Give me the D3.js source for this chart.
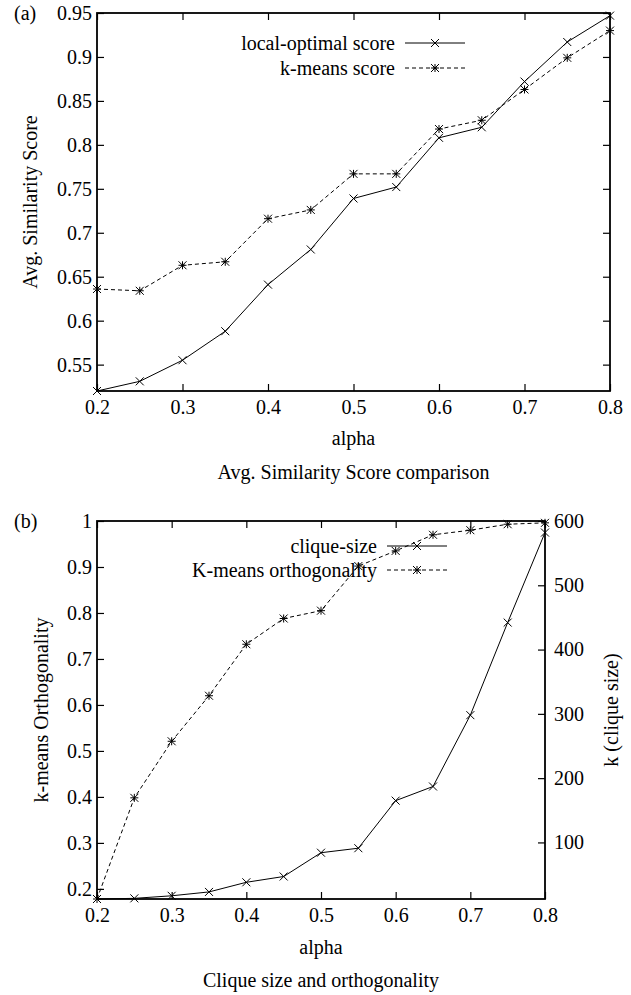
<!DOCTYPE html>
<html>
<head>
<meta charset="utf-8">
<script src="https://cdn.jsdelivr.net/npm/d3@7"></script>
<style>
  body { margin: 0; background: #fff; }
  svg text { font-family: "Liberation Serif", "Times New Roman", serif; font-size: 20px; fill: #000; }
</style>
</head>
<body>
<svg width="631" height="995"></svg>
<script>
// data
const alpha = [0.2, 0.25, 0.3, 0.35, 0.4, 0.45, 0.5, 0.55, 0.6, 0.65, 0.7, 0.75, 0.8];
const localOptimal = [0.52, 0.531, 0.555, 0.588, 0.641, 0.681, 0.739, 0.752, 0.808, 0.820, 0.872, 0.917, 0.947];
const kmeansScore = [0.636, 0.634, 0.663, 0.667, 0.716, 0.726, 0.767, 0.767, 0.818, 0.828, 0.863, 0.899, 0.930];
const kmeansOrth = [0.178, 0.398, 0.521, 0.620, 0.732, 0.788, 0.805, 0.902, 0.935, 0.970, 0.980, 0.993, 0.996];
const cliqueSize = [12, 13, 17, 23, 38, 47, 84, 91, 165, 187, 298, 442, 582];

const xTicks = [0.2, 0.3, 0.4, 0.5, 0.6, 0.7, 0.8];
const scoreTicks = [0.55, 0.6, 0.65, 0.7, 0.75, 0.8, 0.85, 0.9, 0.95];
const orthTicks = [0.2, 0.3, 0.4, 0.5, 0.6, 0.7, 0.8, 0.9, 1];
const kTicks = [100, 200, 300, 400, 500, 600];

const svg = d3.select("svg");
const fmt = d => String(+d.toFixed(2));
const tick = 7;

function cross(g, x, y, s) {
  g.append("path")
    .attr("d", `M${x - s},${y - s}L${x + s},${y + s}M${x - s},${y + s}L${x + s},${y - s}`)
    .attr("stroke", "#000").attr("stroke-width", 1).attr("fill", "none");
}
function star(g, x, y, s) {
  cross(g, x, y, s);
  g.append("path")
    .attr("d", `M${x - s},${y}L${x + s},${y}M${x},${y - s}L${x},${y + s}`)
    .attr("stroke", "#000").attr("stroke-width", 1).attr("fill", "none");
}

function series(g, x, y, vals, dashed, marker) {
  const line = d3.line().x((d, i) => x(alpha[i])).y(d => y(d));
  g.append("path").datum(vals)
    .attr("d", line)
    .attr("fill", "none").attr("stroke", "#000").attr("stroke-width", 1)
    .attr("stroke-dasharray", dashed ? "4,3" : null);
  vals.forEach((v, i) => marker(g, x(alpha[i]), y(v), 4));
}

function legendRow(g, xEnd, y, label, dashed, marker) {
  g.append("text").attr("x", xEnd).attr("y", y).attr("dy", "0.35em")
    .attr("text-anchor", "end").text(label);
  g.append("line").attr("x1", xEnd + 10).attr("x2", xEnd + 70).attr("y1", y).attr("y2", y)
    .attr("stroke", "#000").attr("stroke-width", 1)
    .attr("stroke-dasharray", dashed ? "4,3" : null);
  marker(g, xEnd + 40, y, 4);
}

function clean(sel) {
  sel.select(".domain").remove();
  sel.selectAll(".tick line").attr("stroke-width", 1.2);
  sel.selectAll("text").style("font-size", "20px").style("font-family", null);
}

// ---------- panel (a) ----------
{
  const L = 97, R = 610, T = 13, B = 391;
  const x = d3.scaleLinear().domain([0.2, 0.8]).range([L, R]);
  const y = d3.scaleLinear().domain([0.52, 0.95]).range([B, T]);
  const g = svg.append("g");

  g.append("g").attr("transform", `translate(0,${B})`)
    .call(d3.axisBottom(x).tickValues(xTicks).tickSize(-tick).tickPadding(9).tickFormat(fmt)).call(clean);
  g.append("g").attr("transform", `translate(0,${T})`)
    .call(d3.axisTop(x).tickValues(xTicks).tickSize(-tick).tickFormat("")).call(clean);
  g.append("g").attr("transform", `translate(${L},0)`)
    .call(d3.axisLeft(y).tickValues(scoreTicks).tickSize(-tick).tickPadding(5).tickFormat(fmt)).call(clean);
  g.append("g").attr("transform", `translate(${R},0)`)
    .call(d3.axisRight(y).tickValues(scoreTicks).tickSize(-tick).tickFormat("")).call(clean);

  g.append("rect").attr("x", L).attr("y", T).attr("width", R - L).attr("height", B - T)
    .attr("fill", "none").attr("stroke", "#000").attr("stroke-width", 1.8);

  legendRow(g, 395, 43, "local-optimal score", false, cross);
  legendRow(g, 395, 68, "k-means score", true, star);

  series(g, x, y, localOptimal, false, cross);
  series(g, x, y, kmeansScore, true, star);

  g.append("text").attr("x", 14).attr("y", T).attr("dy", "0.35em").text("(a)");
  g.append("text").attr("transform", `translate(30,${(T + B) / 2}) rotate(-90)`)
    .attr("text-anchor", "middle").attr("dy", "0.35em").text("Avg. Similarity Score");
  g.append("text").attr("x", (L + R) / 2).attr("y", 438).attr("dy", "0.35em")
    .attr("text-anchor", "middle").text("alpha");
  g.append("text").attr("x", (L + R) / 2).attr("y", 472).attr("dy", "0.35em")
    .attr("text-anchor", "middle").text("Avg. Similarity Score comparison");
}

// ---------- panel (b) ----------
{
  const L = 97, R = 545, T = 521, B = 899;
  const x = d3.scaleLinear().domain([0.2, 0.8]).range([L, R]);
  const y = d3.scaleLinear().domain([0.178, 1]).range([B, T]);
  const y2 = d3.scaleLinear().domain([12, 600]).range([B, T]);
  const g = svg.append("g");

  g.append("g").attr("transform", `translate(0,${B})`)
    .call(d3.axisBottom(x).tickValues(xTicks).tickSize(-tick).tickPadding(9).tickFormat(fmt)).call(clean);
  g.append("g").attr("transform", `translate(0,${T})`)
    .call(d3.axisTop(x).tickValues(xTicks).tickSize(-tick).tickFormat("")).call(clean);
  g.append("g").attr("transform", `translate(${L},0)`)
    .call(d3.axisLeft(y).tickValues(orthTicks).tickSize(-tick).tickPadding(5).tickFormat(fmt)).call(clean);
  g.append("g").attr("transform", `translate(${R},0)`)
    .call(d3.axisRight(y2).tickValues(kTicks).tickSize(-tick).tickPadding(9).tickFormat(d3.format("d"))).call(clean);

  g.append("rect").attr("x", L).attr("y", T).attr("width", R - L).attr("height", B - T)
    .attr("fill", "none").attr("stroke", "#000").attr("stroke-width", 1.8);

  legendRow(g, 377, 546, "clique-size", false, cross);
  legendRow(g, 377, 570, "K-means orthogonality", true, star);

  series(g, x, y2, cliqueSize, false, cross);
  series(g, x, y, kmeansOrth, true, star);

  g.append("text").attr("x", 14).attr("y", T).attr("dy", "0.35em").text("(b)");
  g.append("text").attr("transform", `translate(41,${(T + B) / 2}) rotate(-90)`)
    .attr("text-anchor", "middle").attr("dy", "0.35em").text("k-means Orthogonality");
  g.append("text").attr("transform", `translate(611,${(T + B) / 2}) rotate(-90)`)
    .attr("text-anchor", "middle").attr("dy", "0.35em").text("k (clique size)");
  g.append("text").attr("x", (L + R) / 2).attr("y", 947).attr("dy", "0.35em")
    .attr("text-anchor", "middle").text("alpha");
  g.append("text").attr("x", (L + R) / 2).attr("y", 980).attr("dy", "0.35em")
    .attr("text-anchor", "middle").text("Clique size and orthogonality");
}
</script>
</body>
</html>
